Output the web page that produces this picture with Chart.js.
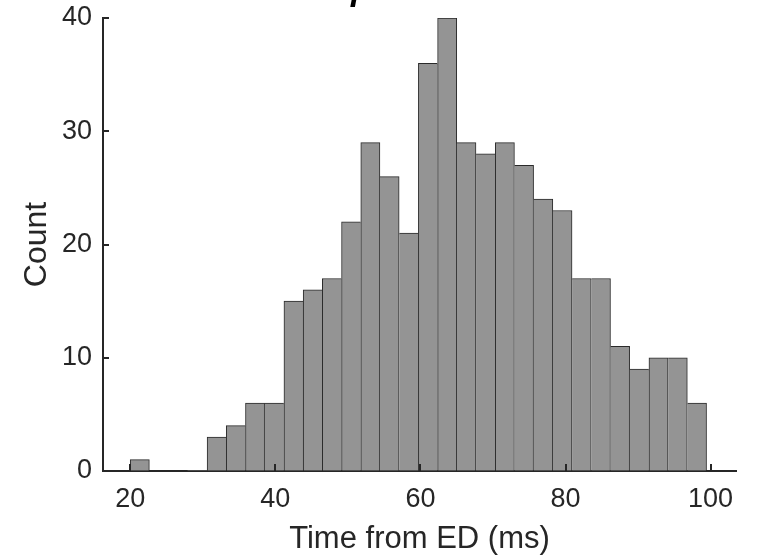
<!DOCTYPE html>
<html><head><meta charset="utf-8">
<script src="https://cdn.jsdelivr.net/npm/chart.js@4/dist/chart.umd.min.js"></script>
<style>html,body{margin:0;padding:0;background:#fff;} #wrap{width:763px;height:560px;}</style>
</head><body><div id="wrap"><canvas id="c" width="763" height="560"></canvas></div>
<script>
const binCenters = [21.32, 23.97, 26.62, 29.27, 31.92, 34.56, 37.21, 39.86, 42.51, 45.16,
                    47.80, 50.45, 53.10, 55.75, 58.40, 61.04, 63.69, 66.34, 68.99, 71.64,
                    74.28, 76.93, 79.58, 82.23, 84.88, 87.52, 90.17, 92.82, 95.47, 98.12];
const counts = [1, 0, 0, 0, 3, 4, 6, 6, 15, 16,
                17, 22, 29, 26, 21, 36, 40, 29, 28, 29,
                27, 24, 23, 17, 17, 11, 9, 10, 10, 6];
const xTickValues = [20, 40, 60, 80, 100];
const yTickValues = [0, 10, 20, 30, 40];
const xLabel = 'Time from ED (ms)';
const yLabel = 'Count';
const titleText = 'p';

const FONT = '"Liberation Sans", Arial, Helvetica, sans-serif';
const TXT = '#262626';

const inwardTicks = {
  id: 'inwardTicks',
  afterDraw(chart) {
    const {ctx, chartArea: a, scales: {x, y}} = chart;
    ctx.save();
    ctx.strokeStyle = TXT;
    ctx.lineWidth = 2;
    xTickValues.forEach(v => {
      const px = Math.round(x.getPixelForValue(v));
      ctx.beginPath(); ctx.moveTo(px, a.bottom); ctx.lineTo(px, a.bottom - 7); ctx.stroke();
    });
    yTickValues.forEach(v => {
      const py = Math.round(y.getPixelForValue(v));
      ctx.beginPath(); ctx.moveTo(a.left, py); ctx.lineTo(a.left + 6, py); ctx.stroke();
    });
    ctx.font = 'bold italic 34px ' + FONT;
    ctx.fillStyle = '#000';
    ctx.textBaseline = 'alphabetic';
    ctx.fillText(titleText, 351, 0);
    ctx.restore();
  }
};

new Chart(document.getElementById('c'), {
  type: 'bar',
  data: {
    datasets: [{
      data: binCenters.map((x, i) => ({x: x, y: counts[i]})),
      backgroundColor: '#949494',
      borderColor: '#2a2a2a',
      borderSkipped: false,
      borderWidth: (c) => {
        const i = c.dataIndex;
        const h = counts[i];
        const prev = i > 0 ? counts[i - 1] : 0;
        const next = i < counts.length - 1 ? counts[i + 1] : 0;
        return {left: h > prev ? 1 : 0, right: h >= next ? 1 : 0, top: 1, bottom: 0};
      },
      barPercentage: 1,
      categoryPercentage: 1
    }]
  },
  options: {
    responsive: false,
    animation: false,
    devicePixelRatio: 1,
    layout: {padding: {top: 18, right: 27, left: 0, bottom: 0}},
    plugins: {legend: {display: false}, tooltip: {enabled: false}, title: {display: false}},
    scales: {
      x: {
        type: 'linear',
        offset: false,
        min: 16.25,
        max: 103.5,
        afterBuildTicks: (s) => { s.ticks = xTickValues.map(v => ({value: v})); },
        afterFit: (s) => { s.height = 89; s.paddingLeft = 0; s.paddingRight = 0; },
        grid: {display: true, drawOnChartArea: false, drawTicks: false, offset: false},
        border: {display: true, color: TXT, width: 2},
        ticks: {color: TXT, font: {family: FONT, size: 27}, padding: 12, maxRotation: 0, autoSkip: false},
        title: {display: true, text: xLabel, color: TXT, font: {family: FONT, size: 31}, padding: {top: 0, bottom: 2}}
      },
      y: {
        min: 0,
        max: 40,
        afterBuildTicks: (s) => { s.ticks = yTickValues.map(v => ({value: v})); },
        afterFit: (s) => { s.width = 103; s.paddingTop = 0; s.paddingBottom = 0; },
        grid: {display: true, drawOnChartArea: false, drawTicks: false},
        border: {display: true, color: TXT, width: 2},
        ticks: {color: TXT, font: {family: FONT, size: 27}, padding: 11},
        title: {display: true, text: yLabel, color: TXT, font: {family: FONT, size: 32}, padding: {top: 18, bottom: 0}}
      }
    }
  },
  plugins: [inwardTicks]
});
</script>
</body></html>
